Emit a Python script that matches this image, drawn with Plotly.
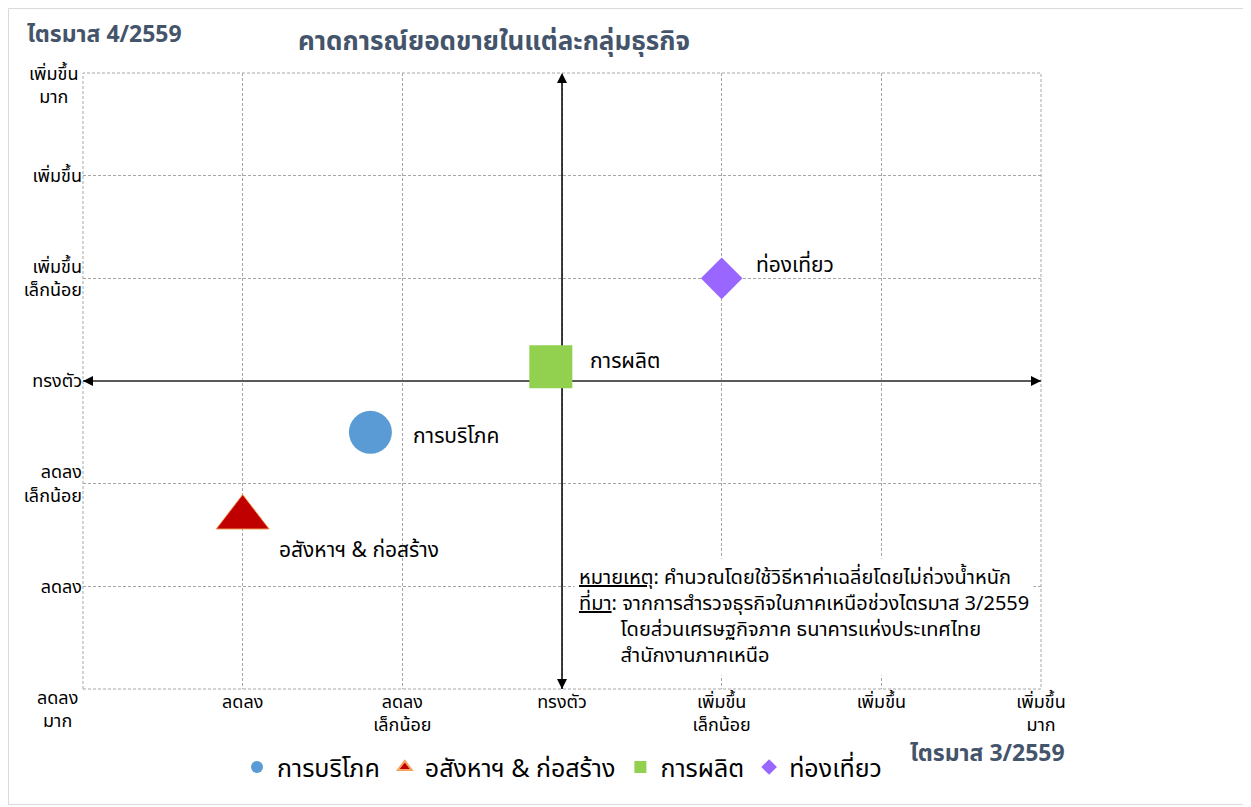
import plotly.graph_objects as go

# ---- data ----
categories = ["การบริโภค", "อสังหาฯ & ก่อสร้าง", "การผลิต", "ท่องเที่ยว"]
x_vals = [-1.2, -2.0, -0.07, 1.0]
y_vals = [-0.5, -1.33, 0.14, 1.0]
colors = ["#5B9BD5", "#C00000", "#92D050", "#9966FF"]
symbols = ["circle", "triangle-up", "square", "diamond"]
sizes = [43, 46, 43, 32]
label_shift_x = [41, 34, 37, 32]
label_shift_y = [-4, -33, 5, 13]

tick_vals = [-3, -2, -1, 0, 1, 2, 3]
x_tick_labels = ["", "ลดลง", "ลดลง<br>เล็กน้อย", "ทรงตัว", "เพิ่มขึ้น<br>เล็กน้อย", "เพิ่มขึ้น", "เพิ่มขึ้น<br>มาก"]
y_tick_labels = ["", "ลดลง", "ลดลง<br>เล็กน้อย", "ทรงตัว", "เพิ่มขึ้น<br>เล็กน้อย", "เพิ่มขึ้น", ""]
y_edge_top = "เพิ่มขึ้น<br>มาก"
y_edge_bottom = "ลดลง<br>มาก"

title_text = "คาดการณ์ยอดขายในแต่ละกลุ่มธุรกิจ"
y_axis_title = "ไตรมาส 4/2559"
x_axis_title = "ไตรมาส 3/2559"
indent = "&nbsp;" * 8
note_text = ("<u>หมายเหตุ</u>: คำนวณโดยใช้วิธีหาค่าเฉลี่ยโดยไม่ถ่วงน้ำหนัก<br>"
             "<u>ที่มา</u>: จากการสำรวจธุรกิจในภาคเหนือช่วงไตรมาส 3/2559<br>"
             + indent + "โดยส่วนเศรษฐกิจภาค ธนาคารแห่งประเทศไทย<br>"
             + indent + "สำนักงานภาคเหนือ")

axis_min, axis_max = -3, 3

FONT = "Tahoma, 'Noto Sans Thai', 'Noto Sans', 'DejaVu Sans', sans-serif"
TITLE_COLOR = "#44546A"
TICK_SIZE = 18

fig = go.Figure()

# quadrant arrows (drawn first so markers sit on top)
fig.add_trace(go.Scatter(
    x=[axis_min, axis_max], y=[0, 0], mode="lines+markers",
    line=dict(color="#595959", width=2),
    marker=dict(symbol=["arrow-left", "arrow-right"], size=10, color="#000000"),
    showlegend=False, hoverinfo="skip", cliponaxis=False))
fig.add_trace(go.Scatter(
    x=[0, 0], y=[axis_min, axis_max], mode="lines+markers",
    line=dict(color="#000000", width=1.5),
    marker=dict(symbol=["arrow-down", "arrow-up"], size=10, color="#000000"),
    showlegend=False, hoverinfo="skip", cliponaxis=False))

for i, cat in enumerate(categories):
    fig.add_trace(go.Scatter(
        x=[x_vals[i]], y=[y_vals[i]], mode="markers", name=cat,
        marker=dict(symbol=symbols[i], size=sizes[i], color=colors[i],
                    line=dict(width=1 if i == 1 else 0, color="#F4A460")),
        cliponaxis=False))
    fig.add_annotation(x=x_vals[i], y=y_vals[i], text=cat, showarrow=False,
                       xanchor="left", yanchor="middle",
                       xshift=label_shift_x[i], yshift=label_shift_y[i],
                       font=dict(size=21, color="#000000", family=FONT))

axis_common = dict(
    range=[axis_min, axis_max], tickvals=tick_vals,
    showgrid=True, gridcolor="#A6A6A6", griddash="3px,2px", gridwidth=1,
    zeroline=False, showline=False, ticks="",
    tickfont=dict(size=TICK_SIZE, color="#000000", family=FONT),
    fixedrange=True)

fig.update_xaxes(**axis_common, ticktext=x_tick_labels)
fig.update_yaxes(**axis_common, ticktext=y_tick_labels)

# dashed plot-area border (edge gridlines)
fig.add_shape(type="rect", xref="x domain", yref="y domain", x0=0, x1=1, y0=0, y1=1,
              line=dict(color="#A6A6A6", width=1, dash="3px,2px"), layer="below")

# edge y labels
fig.add_annotation(xref="paper", yref="y", x=0, y=axis_max, text=y_edge_top,
                   showarrow=False, xanchor="right", yanchor="middle", xshift=-3, yshift=-12.5,
                   align="center", font=dict(size=TICK_SIZE, color="#000000", family=FONT))
fig.add_annotation(xref="paper", yref="y", x=0, y=axis_min, text=y_edge_bottom,
                   showarrow=False, xanchor="right", yanchor="middle", xshift=-3, yshift=-20.5,
                   align="center", font=dict(size=TICK_SIZE, color="#000000", family=FONT))

# titles
fig.add_annotation(xref="paper", yref="paper", x=0.429, y=1.050, text=f"<b>{title_text}</b>",
                   showarrow=False, xanchor="center", yanchor="middle",
                   font=dict(size=26, color=TITLE_COLOR, family=FONT))
fig.add_annotation(xref="paper", yref="paper", x=-0.0605, y=1.0616, text=f"<b>{y_axis_title}</b>",
                   showarrow=False, xanchor="left", yanchor="middle",
                   font=dict(size=23, color=TITLE_COLOR, family=FONT))
fig.add_annotation(xref="paper", yref="paper", x=1.027, y=-0.106, text=f"<b>{x_axis_title}</b>",
                   showarrow=False, xanchor="right", yanchor="middle",
                   font=dict(size=23, color=TITLE_COLOR, family=FONT))

# note box
fig.add_annotation(xref="paper", yref="paper", x=0.5125, y=0.2133, text=note_text,
                   showarrow=False, xanchor="left", yanchor="top", align="left",
                   bgcolor="#FFFFFF", borderpad=4,
                   font=dict(size=20, color="#000000", family=FONT))

# outer chart border
fig.add_shape(type="rect", xref="paper", yref="paper",
              x0=-0.0778, x1=1.2171, y0=-0.1873, y1=1.1046,
              line=dict(color="#D9D9D9", width=1), fillcolor="rgba(0,0,0,0)", layer="below")

# page has an 8px body margin: shrink the figure and margins to keep the plot area in place
fig.update_layout(
    width=1243, height=799,
    margin=dict(l=75, r=210, t=65, b=117.5),
    paper_bgcolor="#FFFFFF", plot_bgcolor="#FFFFFF",
    font=dict(family=FONT, color="#000000"),
    showlegend=True,
    legend=dict(orientation="h", x=0.50, y=-0.127, xanchor="center", yanchor="middle",
                font=dict(size=25, color="#000000", family=FONT),
                itemsizing="constant", bgcolor="rgba(0,0,0,0)"),
)

fig.write_html("out.html")
